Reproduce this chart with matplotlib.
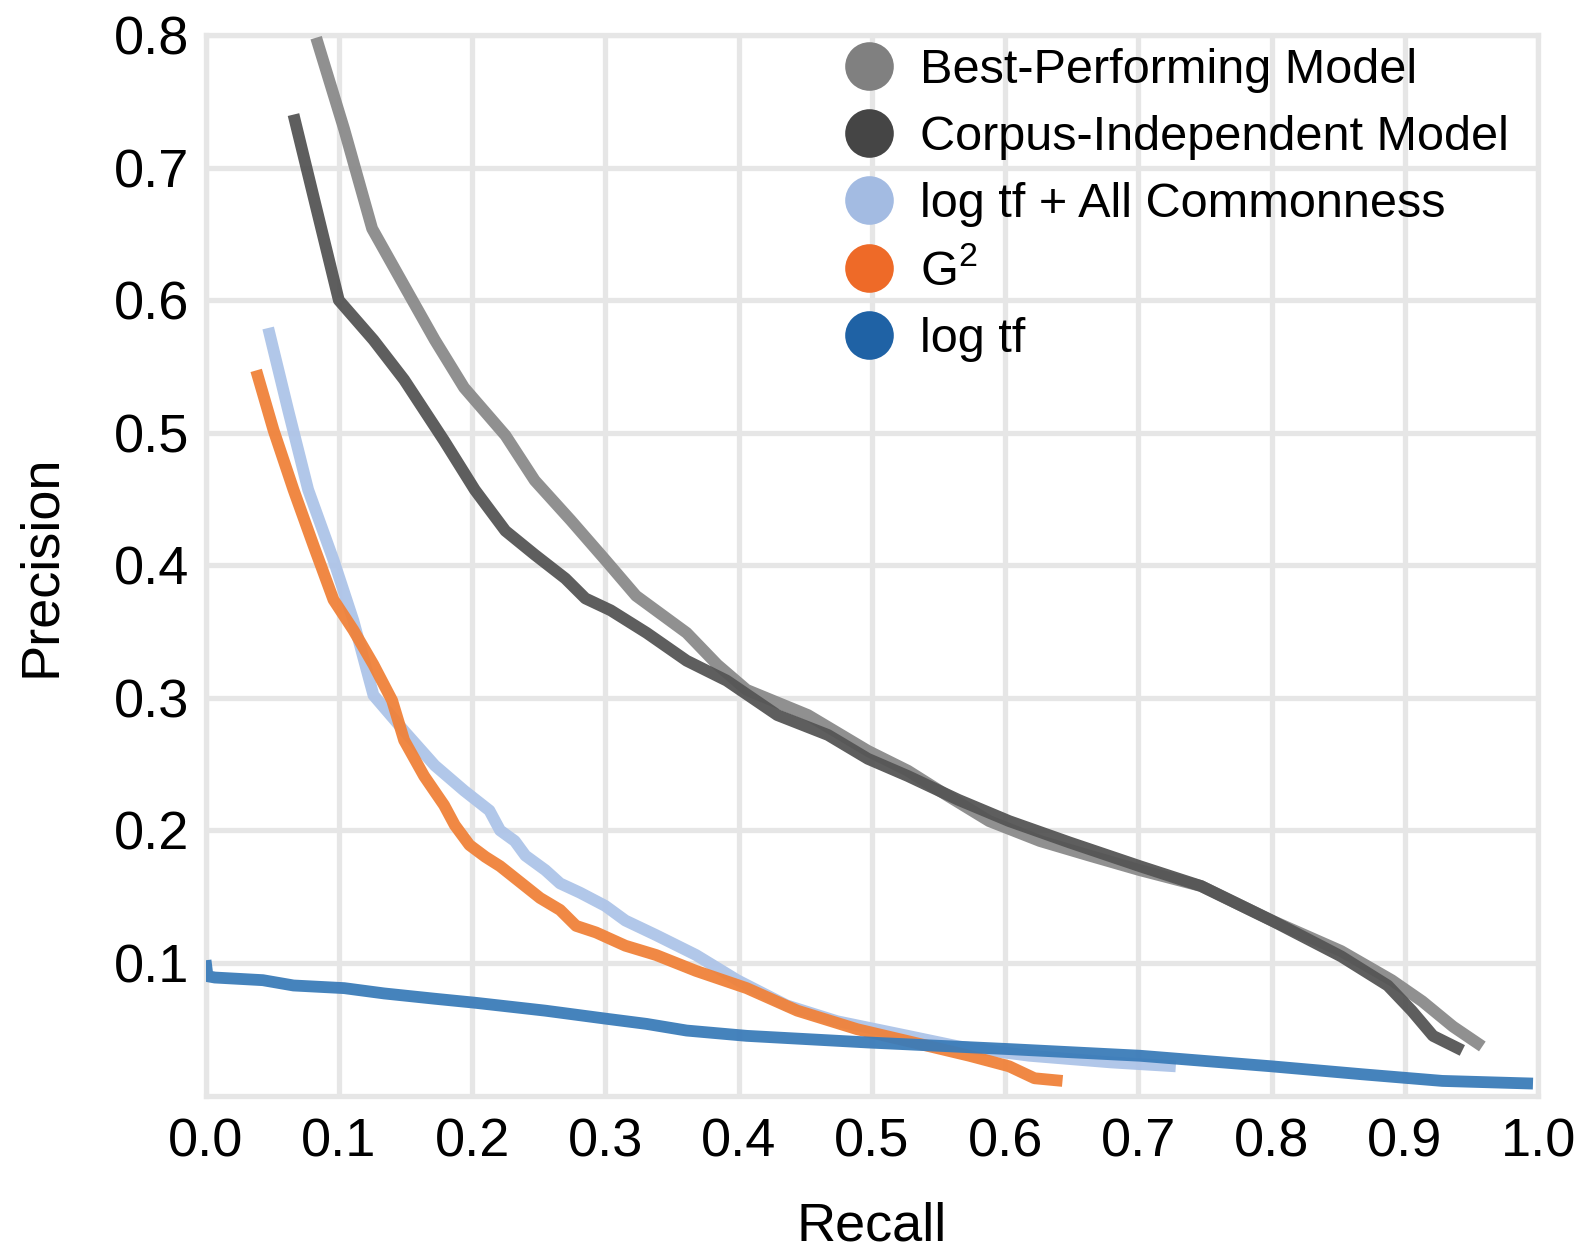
import matplotlib
matplotlib.use("Agg")
import matplotlib.pyplot as plt
from matplotlib.lines import Line2D

plt.rcParams['font.family'] = ['Liberation Sans', 'DejaVu Sans']
plt.rcParams['mathtext.fontset'] = 'custom'
plt.rcParams['mathtext.rm'] = 'Liberation Sans'
plt.rcParams['mathtext.it'] = 'Liberation Sans'

labels = ["Best-Performing Model", "Corpus-Independent Model",
          "log tf + All Commonness", r"G$^2$", "log tf"]
legend_colors = ["#808080", "#454545", "#a3bbe2", "#ee6a28", "#1f62a5"]
line_colors = ["#8a8a8a", "#555555", "#adc4e8", "#f0823a", "#3b7cb9"]

best_x = [0.083, 0.104, 0.125, 0.149, 0.172, 0.194, 0.225, 0.247, 0.274, 0.300, 0.323,
          0.361, 0.384, 0.406, 0.452, 0.497, 0.527, 0.557, 0.588, 0.626, 0.663, 0.701,
          0.747, 0.800, 0.852, 0.890, 0.913, 0.936, 0.958]
best_y = [0.798, 0.729, 0.654, 0.611, 0.570, 0.534, 0.498, 0.464, 0.434, 0.404, 0.377,
          0.349, 0.325, 0.306, 0.287, 0.260, 0.245, 0.226, 0.207, 0.192, 0.181, 0.170,
          0.158, 0.132, 0.109, 0.087, 0.071, 0.052, 0.037]

corpus_x = [0.066, 0.100, 0.126, 0.149, 0.179, 0.202, 0.225, 0.247, 0.270, 0.285, 0.304,
            0.331, 0.361, 0.391, 0.429, 0.467, 0.497, 0.527, 0.565, 0.603, 0.648, 0.701,
            0.747, 0.800, 0.852, 0.887, 0.905, 0.921, 0.943]
corpus_y = [0.740, 0.600, 0.570, 0.540, 0.494, 0.457, 0.426, 0.408, 0.390, 0.375, 0.366,
            0.349, 0.328, 0.313, 0.287, 0.272, 0.254, 0.241, 0.223, 0.207, 0.191, 0.173,
            0.158, 0.132, 0.105, 0.083, 0.064, 0.045, 0.034]

common_x = [0.047, 0.062, 0.077, 0.096, 0.111, 0.126, 0.149, 0.172, 0.194, 0.213, 0.221,
            0.232, 0.240, 0.255, 0.266, 0.281, 0.300, 0.315, 0.338, 0.368, 0.399, 0.436,
            0.474, 0.527, 0.565, 0.618, 0.679, 0.728]
common_y = [0.579, 0.517, 0.457, 0.404, 0.358, 0.302, 0.275, 0.249, 0.230, 0.215, 0.200,
            0.192, 0.181, 0.170, 0.160, 0.153, 0.143, 0.132, 0.121, 0.106, 0.087, 0.068,
            0.056, 0.045, 0.037, 0.030, 0.025, 0.022]

g2_x = [0.038, 0.051, 0.066, 0.081, 0.096, 0.111, 0.126, 0.140, 0.149, 0.164, 0.179,
        0.187, 0.198, 0.210, 0.221, 0.236, 0.251, 0.266, 0.278, 0.293, 0.315, 0.338,
        0.368, 0.406, 0.444, 0.489, 0.527, 0.573, 0.603, 0.622, 0.643]
g2_y = [0.547, 0.502, 0.457, 0.415, 0.374, 0.351, 0.325, 0.298, 0.268, 0.241, 0.219,
        0.204, 0.189, 0.180, 0.173, 0.161, 0.149, 0.140, 0.128, 0.123, 0.113, 0.106,
        0.094, 0.081, 0.064, 0.050, 0.041, 0.030, 0.022, 0.013, 0.011]

logtf_x = [0.0, 0.0015, 0.007, 0.043, 0.066, 0.104, 0.134, 0.172, 0.202, 0.255, 0.300,
           0.331, 0.361, 0.406, 0.497, 0.603, 0.701, 0.800, 0.868, 0.928, 0.996]
logtf_y = [0.102, 0.090, 0.089, 0.087, 0.083, 0.081, 0.077, 0.073, 0.070, 0.064, 0.058,
           0.054, 0.049, 0.045, 0.040, 0.035, 0.030, 0.022, 0.016, 0.011, 0.009]

x_ticks = [0.0, 0.1, 0.2, 0.3, 0.4, 0.5, 0.6, 0.7, 0.8, 0.9, 1.0]
y_ticks = [0.1, 0.2, 0.3, 0.4, 0.5, 0.6, 0.7, 0.8]

fig = plt.figure(figsize=(15.81, 12.52), dpi=100)
ax = fig.add_axes([0.130, 0.125, 0.843, 0.847])

series = [(best_x, best_y), (corpus_x, corpus_y), (common_x, common_y),
          (g2_x, g2_y), (logtf_x, logtf_y)]
for (xs, ys), c in zip(series, line_colors):
    ax.plot(xs, ys, color=c, lw=8.5, solid_capstyle='butt', solid_joinstyle='round',
            alpha=0.95, zorder=3)

ax.set_xlim(0, 1.0)
ax.set_ylim(0, 0.8)
ax.set_xticks(x_ticks)
ax.set_xticklabels([f"{v:.1f}" for v in x_ticks])
ax.set_yticks(y_ticks)
ax.set_yticklabels([f"{v:.1f}" for v in y_ticks])
ax.grid(True, color="#e6e6e6", lw=3.8, zorder=0)
ax.set_axisbelow(True)
for s in ax.spines.values():
    s.set_color("#e6e6e6")
    s.set_linewidth(3.8)
ax.tick_params(length=0, labelsize=39)
ax.tick_params(axis='x', pad=16)
ax.tick_params(axis='y', pad=12)
ax.set_xlabel("Recall", fontsize=39, labelpad=24)
ax.set_ylabel("Precision", fontsize=39, labelpad=34)

handles = [Line2D([], [], ls='none', marker='o', markersize=35, color=c, markeredgewidth=0)
           for c in legend_colors]
ax.legend(handles, labels, loc='upper right', bbox_to_anchor=(1.0, 1.015), frameon=False,
          fontsize=35, handlelength=0.9, handletextpad=0.6, labelspacing=0.45,
          borderaxespad=0.2)

fig.savefig("out.png", dpi=100)
